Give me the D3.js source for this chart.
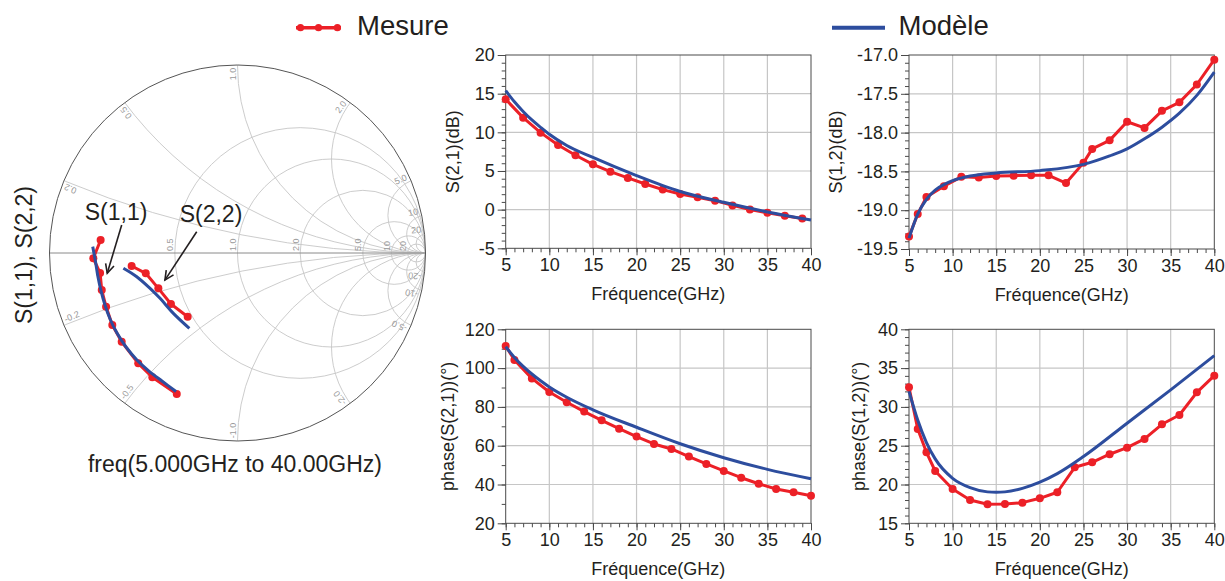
<!DOCTYPE html>
<html><head><meta charset="utf-8">
<script src="https://d3js.org/d3.v7.min.js"></script>
<style>
html,body{margin:0;padding:0;background:#fff;}
svg{display:block;}
text{font-family:Arial,"Liberation Sans",Helvetica,sans-serif;}
</style></head><body>
<svg id="chart" width="1225" height="581"></svg>
<script>
// ---------------- DATA ----------------
const legendLabels = ["Mesure", "Modèle"];
const freqTicks = [5, 10, 15, 20, 25, 30, 35, 40];
const xTitle = "Fréquence(GHz)";

// S(2,1) dB
const s21dbFreqMes = [5,7,9,11,13,15,17,19,21,23,25,27,29,31,33,35,37,39];
const s21dbMes = [14.27,11.9,9.96,8.36,7.03,5.86,4.91,4.1,3.32,2.59,2.03,1.6,1.16,0.55,0.02,-0.4,-0.78,-1.16];
const s21dbFreqMod = [5,6,7,8,9,10,12,15,20,25,30,35,40];
const s21dbMod = [15.4,13.95,12.7,11.6,10.65,9.75,8.3,6.75,4.4,2.35,0.95,-0.3,-1.35];
const s21dbTicks = [-5, 0, 5, 10, 15, 20];

// S(1,2) dB
const s12dbFreqMes = [5,6,7,9,11,13,15,17,19,21,23,25,26,28,30,32,34,36,38,40];
const s12dbMes = [-19.34,-19.05,-18.83,-18.69,-18.57,-18.58,-18.56,-18.555,-18.55,-18.55,-18.65,-18.39,-18.21,-18.10,-17.86,-17.94,-17.72,-17.61,-17.38,-17.06];
const s12dbFreqMod = [5,6,7,8,9,10,12,15,20,25,28,30,32,34,36,38,40];
const s12dbMod = [-19.36,-19.05,-18.86,-18.74,-18.67,-18.62,-18.56,-18.52,-18.49,-18.41,-18.3,-18.21,-18.08,-17.93,-17.75,-17.52,-17.22];
const s12dbTicks = [-19.5, -19.0, -18.5, -18.0, -17.5, -17.0];

// phase S(2,1)
const ph21FreqMes = [5,6,8,10,12,14,16,18,20,22,24,26,28,30,32,34,36,38,40];
const ph21Mes = [111.4,104.2,94.7,87.7,82.4,77.6,73.1,68.8,64.7,60.9,58.3,54.4,50.6,47.0,43.5,40.4,37.7,36.0,34.2];
const ph21FreqMod = [5,6,7,8,9,10,12,15,20,25,30,35,40];
const ph21Mod = [111,105.5,100.9,96.95,93.45,90.3,85.0,78.5,69.5,61.0,53.8,47.8,43.0];
const ph21Ticks = [20, 40, 60, 80, 100, 120];

// phase S(1,2)
const ph12FreqMes = [5,6,7,8,10,12,14,16,18,20,22,24,26,28,30,32,34,36,38,40];
const ph12Mes = [32.53,27.16,24.15,21.74,19.42,18.01,17.45,17.49,17.66,18.22,19.0,22.22,22.86,23.9,24.75,25.87,27.76,28.96,31.88,34.03];
const ph12FreqMod = [5,6,7,8,10,12,14,15,16,18,20,22,25,30,35,40];
const ph12Mod = [32.0,28.3,25.4,23.3,20.8,19.6,19.05,19.0,19.05,19.5,20.3,21.4,23.6,27.9,32.2,36.6];
const ph12Ticks = [15, 20, 25, 30, 35, 40];

// Smith chart (reflection coefficient, [Re, Im])
const s11Mesure = [[-0.728,0.069],[-0.767,-0.028],[-0.731,-0.106],[-0.722,-0.197],[-0.699,-0.286],[-0.666,-0.383],[-0.616,-0.472],[-0.528,-0.587],[-0.453,-0.661],[-0.323,-0.750]];
const s11Modele = [[-0.770,0.034],[-0.755,-0.048],[-0.742,-0.128],[-0.726,-0.202],[-0.705,-0.277],[-0.678,-0.351],[-0.641,-0.426],[-0.593,-0.500],[-0.535,-0.569],[-0.471,-0.628],[-0.402,-0.681],[-0.327,-0.737]];
const s22Mesure = [[-0.563,-0.069],[-0.488,-0.108],[-0.421,-0.188],[-0.354,-0.271],[-0.265,-0.339]];
const s22Modele = [[-0.607,-0.081],[-0.536,-0.126],[-0.465,-0.188],[-0.412,-0.241],[-0.341,-0.321],[-0.256,-0.401]];
const smithR = [0.5, 1, 2, 5, 10, 20];
const smithX = [0.2, 0.5, 1, 2, 5, 10, 20];
const smithRLabels = ["0.5", "1.0", "2.0", "5.0", "10", "20"];
const smithXLabels = ["0.2", "0.5", "1.0", "2.0", "5.0", "10", "20"];
const smithAnnot = [
  {label: "S(1,1)", text: [-0.646, 0.176], from: [-0.616, 0.149], to: [-0.693, -0.108]},
  {label: "S(2,2)", text: [-0.141, 0.166], from: [-0.217, 0.113], to: [-0.386, -0.144]}
];
const smithYTitle = "S(1,1), S(2,2)";
const smithXTitle = "freq(5.000GHz to 40.00GHz)";

// ---------------- STYLE ----------------
const RED = "#ec2027", BLUE = "#2d4d9e", TXT = "#231f20", GRID = "#c6c6c6", AX = "#4a4a4a";
const svg = d3.select("#chart");
const zip = (a, b) => a.map((v, i) => [v, b[i]]);
const fmtMinus = f => d => f(d).replace("\u2212", "-");

// ---------------- LEGEND ----------------
(function legend() {
  const lx = d3.scaleLinear().domain([0, 1]).range([296, 341]);
  const g = svg.append("g");
  g.append("line").attr("x1", lx(0)).attr("x2", lx(1)).attr("y1", 27.7).attr("y2", 27.7)
    .attr("stroke", RED).attr("stroke-width", 3.5);
  g.selectAll("circle.lg").data([0.1, 0.5, 0.92]).join("circle")
    .attr("cx", d => lx(d)).attr("cy", 27.7).attr("r", 3.6).attr("fill", RED);
  g.append("text").attr("x", 357).attr("y", 34.6).attr("font-size", 27.5).attr("fill", TXT).text(legendLabels[0]);
  g.append("line").attr("x1", 832).attr("x2", 885).attr("y1", 27.7).attr("y2", 27.7)
    .attr("stroke", BLUE).attr("stroke-width", 4);
  g.append("text").attr("x", 898.5).attr("y", 34.6).attr("font-size", 27.5).attr("fill", TXT).text(legendLabels[1]);
})();

// ---------------- RECTANGULAR PLOTS ----------------
function drawPlot(p) {
  const g = svg.append("g");
  const x = d3.scaleLinear().domain([5, 40]).range([p.x0, p.x1]);
  const y = d3.scaleLinear().domain([p.ticks[0], p.ticks[p.ticks.length - 1]]).range([p.y1, p.y0]);
  // grid
  g.selectAll("line.vg").data(freqTicks.slice(1, -1)).join("line")
    .attr("x1", d => x(d)).attr("x2", d => x(d)).attr("y1", p.y0).attr("y2", p.y1)
    .attr("stroke", GRID).attr("stroke-width", 1.2);
  g.selectAll("line.hg").data(p.ticks.slice(1, -1)).join("line")
    .attr("x1", p.x0).attr("x2", p.x1).attr("y1", d => y(d)).attr("y2", d => y(d))
    .attr("stroke", GRID).attr("stroke-width", 1.2);
  // frame
  g.append("rect").attr("x", p.x0).attr("y", p.y0).attr("width", p.x1 - p.x0).attr("height", p.y1 - p.y0)
    .attr("fill", "none").attr("stroke", AX).attr("stroke-width", 1);
  // minor ticks
  const step = (p.ticks[1] - p.ticks[0]) / p.minorDiv;
  const yMinor = d3.range(p.ticks[0], p.ticks[p.ticks.length - 1] + step / 2, step);
  g.append("g").attr("transform", `translate(0,${p.y1})`)
    .call(d3.axisBottom(x).tickValues(d3.range(5, 41, 1)).tickSize(4).tickFormat("").tickSizeOuter(0))
    .call(a => a.select(".domain").remove())
    .call(a => a.selectAll("line").attr("stroke", AX));
  g.append("g").attr("transform", `translate(${p.x0},0)`)
    .call(d3.axisLeft(y).tickValues(yMinor).tickSize(4).tickFormat("").tickSizeOuter(0))
    .call(a => a.select(".domain").remove())
    .call(a => a.selectAll("line").attr("stroke", AX));
  // major ticks + labels
  const xa = g.append("g").attr("transform", `translate(0,${p.y1})`)
    .call(d3.axisBottom(x).tickValues(freqTicks).tickSize(7).tickPadding(3).tickSizeOuter(0));
  const ya = g.append("g").attr("transform", `translate(${p.x0},0)`)
    .call(d3.axisLeft(y).tickValues(p.ticks).tickSize(8).tickPadding(3).tickSizeOuter(0).tickFormat(p.fmt));
  [xa, ya].forEach(a => {
    a.attr("font-family", null).attr("font-size", null);
    a.select(".domain").remove();
    a.selectAll("line").attr("stroke", AX);
    a.selectAll("text").attr("font-size", 18).attr("fill", TXT);
  });
  // titles
  g.append("text").attr("x", (p.x0 + p.x1) / 2).attr("y", p.y1 + 51.5).attr("text-anchor", "middle")
    .attr("font-size", 18).attr("fill", TXT).text(xTitle);
  g.append("text").attr("transform", `translate(${p.titleX},${(p.y0 + p.y1) / 2}) rotate(-90)`)
    .attr("text-anchor", "middle").attr("font-size", 18).attr("fill", TXT).text(p.yTitle);
  // series
  const line = d3.line().x(d => x(d[0])).y(d => y(d[1]));
  const mes = zip(p.fMes, p.vMes), mod = zip(p.fMod, p.vMod);
  g.append("path").datum(mes).attr("d", line).attr("fill", "none").attr("stroke", RED)
    .attr("stroke-width", 3).attr("stroke-linejoin", "round");
  g.selectAll("circle.m").data(mes).join("circle")
    .attr("cx", d => x(d[0])).attr("cy", d => y(d[1])).attr("r", 4).attr("fill", RED);
  g.append("path").datum(mod).attr("d", line.curve(d3.curveMonotoneX)).attr("fill", "none")
    .attr("stroke", BLUE).attr("stroke-width", 3);
}

const fInt = fmtMinus(d3.format("d"));
const f1 = fmtMinus(d3.format(".1f"));
drawPlot({x0: 505.7, x1: 811, y0: 55, y1: 248.3, ticks: s21dbTicks, minorDiv: 5, fmt: fInt,
  yTitle: "S(2,1)(dB)", titleX: 459, fMes: s21dbFreqMes, vMes: s21dbMes, fMod: s21dbFreqMod, vMod: s21dbMod});
drawPlot({x0: 909, x1: 1214.3, y0: 55, y1: 249, ticks: s12dbTicks, minorDiv: 5, fmt: f1,
  yTitle: "S(1,2)(dB)", titleX: 842, fMes: s12dbFreqMes, vMes: s12dbMes, fMod: s12dbFreqMod, vMod: s12dbMod});
drawPlot({x0: 505.7, x1: 811, y0: 329.3, y1: 523.3, ticks: ph21Ticks, minorDiv: 2, fmt: fInt,
  yTitle: "phase(S(2,1))(°)", titleX: 454, fMes: ph21FreqMes, vMes: ph21Mes, fMod: ph21FreqMod, vMod: ph21Mod});
drawPlot({x0: 909, x1: 1214.3, y0: 329.3, y1: 523.3, ticks: ph12Ticks, minorDiv: 5, fmt: fInt,
  yTitle: "phase(S(1,2))(°)", titleX: 865, fMes: ph12FreqMes, vMes: ph12Mes, fMod: ph12FreqMod, vMod: ph12Mod});

// ---------------- SMITH CHART ----------------
(function smith() {
  const cx = 237.5, cy = 253, R = 188;
  const gx = d3.scaleLinear().domain([-1, 1]).range([cx - R, cx + R]);
  const gy = d3.scaleLinear().domain([-1, 1]).range([cy + R, cy - R]);
  const k = R;
  const g = svg.append("g");
  const defs = svg.append("defs");
  defs.append("clipPath").attr("id", "unit").append("circle").attr("cx", cx).attr("cy", cy).attr("r", R);
  const grid = g.append("g").attr("clip-path", "url(#unit)");
  grid.selectAll("circle.r").data(smithR).join("circle")
    .attr("cx", r => gx(r / (r + 1))).attr("cy", gy(0)).attr("r", r => k / (r + 1))
    .attr("fill", "none").attr("stroke", GRID).attr("stroke-width", 0.9);
  const xs = smithX.flatMap(v => [v, -v]);
  grid.selectAll("circle.x").data(xs).join("circle")
    .attr("cx", gx(1)).attr("cy", v => gy(1 / v)).attr("r", v => k / Math.abs(v))
    .attr("fill", "none").attr("stroke", GRID).attr("stroke-width", 0.9);
  g.append("line").attr("x1", gx(-1)).attr("x2", gx(1)).attr("y1", gy(0)).attr("y2", gy(0))
    .attr("stroke", "#8a8a8a").attr("stroke-width", 1);
  g.append("circle").attr("cx", cx).attr("cy", cy).attr("r", R).attr("fill", "none")
    .attr("stroke", "#555").attr("stroke-width", 1);
  g.selectAll("text.rl").data(smithR).join("text")
    .attr("transform", r => `translate(${gx((r - 1) / (r + 1)) - 1.5},${gy(0) - 2}) rotate(-90)`)
    .attr("font-size", 9).attr("fill", "#9a9a9a").text((r, i) => smithRLabels[i]);
  const xl = [];
  smithX.forEach((v, i) => {
    [1, -1].forEach(s => {
      const xv = v * s;
      const re = (xv * xv - 1) / (xv * xv + 1), im = 2 * xv / (xv * xv + 1);
      const th = Math.atan2(im, re) * 180 / Math.PI;
      xl.push({re: re * 0.985, im: im * 0.985, th, s, lab: (s < 0 ? "-" : "") + smithXLabels[i]});
    });
  });
  g.selectAll("text.xl").data(xl).join("text")
    .attr("transform", d => `translate(${gx(d.re)},${gy(d.im)}) rotate(${d.s > 0 ? -d.th : -d.th + 180})`)
    .attr("text-anchor", d => d.s > 0 ? "end" : "start")
    .attr("dy", -2)
    .attr("font-size", 9).attr("fill", "#9a9a9a").text(d => d.lab);
  const line = d3.line().x(d => gx(d[0])).y(d => gy(d[1]));
  [s11Mesure, s22Mesure].forEach(s => {
    g.append("path").datum(s).attr("d", line).attr("fill", "none").attr("stroke", RED)
      .attr("stroke-width", 3).attr("stroke-linejoin", "round");
    g.selectAll(null).data(s).join("circle").attr("cx", d => gx(d[0])).attr("cy", d => gy(d[1]))
      .attr("r", 4).attr("fill", RED);
  });
  [s11Modele, s22Modele].forEach(s => {
    g.append("path").datum(s).attr("d", line.curve(d3.curveCatmullRom)).attr("fill", "none")
      .attr("stroke", BLUE).attr("stroke-width", 3);
  });
  smithAnnot.forEach(a => {
    g.append("text").attr("x", gx(a.text[0])).attr("y", gy(a.text[1])).attr("text-anchor", "middle")
      .attr("font-size", 23).attr("fill", TXT).text(a.label);
    const x1 = gx(a.from[0]), y1 = gy(a.from[1]), x2 = gx(a.to[0]), y2 = gy(a.to[1]);
    g.append("line").attr("x1", x1).attr("y1", y1).attr("x2", x2).attr("y2", y2)
      .attr("stroke", TXT).attr("stroke-width", 1.6);
    const ang = Math.atan2(y2 - y1, x2 - x1), L = 10, sp = 0.45;
    const pts = [[x2 - L * Math.cos(ang - sp), y2 - L * Math.sin(ang - sp)], [x2, y2],
                 [x2 - L * Math.cos(ang + sp), y2 - L * Math.sin(ang + sp)]];
    g.append("path").attr("d", d3.line()(pts)).attr("fill", "none").attr("stroke", TXT).attr("stroke-width", 1.6);
  });
  g.append("text").attr("transform", `translate(32,${cy + 2}) rotate(-90)`).attr("text-anchor", "middle")
    .attr("font-size", 23).attr("fill", TXT).text(smithYTitle);
  g.append("text").attr("x", 235).attr("y", 471.5).attr("text-anchor", "middle")
    .attr("font-size", 23).attr("fill", TXT).text(smithXTitle);
})();
</script>
</body></html>
